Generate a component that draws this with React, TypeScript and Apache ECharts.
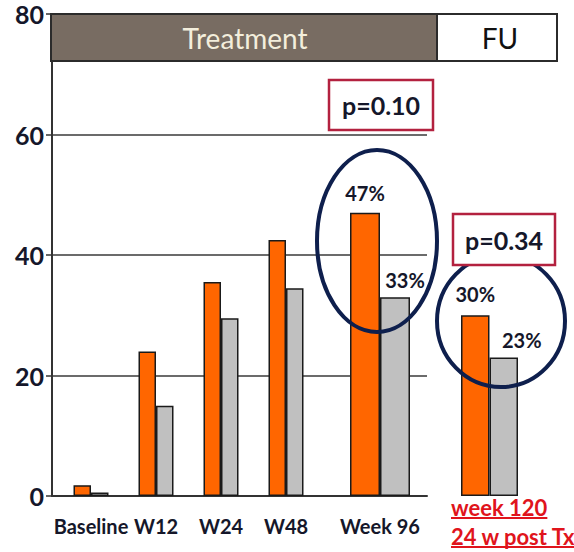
import React, { useEffect, useRef } from 'react';
import * as echarts from 'echarts';

// Response rates (%) by visit: two study arms
const categories = ['Baseline', 'W12', 'W24', 'W48', 'Week 96', 'week 120\n24 w post Tx'];
const orangeValues = [1.8, 24, 35.5, 42.5, 47, 30];
const grayValues = [0.6, 15, 29.5, 34.5, 33, 23];
const yTicks = [0, 20, 40, 60, 80];
const periods = ['Treatment', 'FU'];
const pValues = ['p=0.10', 'p=0.34'];

const FONT = 'Lato, "Open Sans", sans-serif';
const ORANGE = '#ff6600';
const GRAY = '#c0c0c0';
const NAVY = '#0e1f4d';
const RED = '#e0141c';
const INK = '#15172a';

function textWidth(text: string, font: string): number {
  const c = document.createElement('canvas').getContext('2d');
  if (!c) return text.length * 10;
  c.font = font;
  return c.measureText(text).width;
}

export default function App() {
  const ref = useRef<HTMLDivElement>(null);

  useEffect(() => {
    if (!ref.current) return;
    const chart = echarts.init(ref.current, undefined, { renderer: 'svg' });

    const top = 14;
    const height = 482;
    const yMin = yTicks[0];
    const yMax = yTicks[yTicks.length - 1];
    const step = yTicks[1] - yTicks[0];

    const hiddenY = (gridIndex: number) => ({
      type: 'value',
      gridIndex,
      min: yMin,
      max: yMax,
      interval: step,
      show: false,
    });

    const catAxis = (gridIndex: number, data: string[], showLabel: boolean) => ({
      type: 'category',
      gridIndex,
      data,
      axisLine: { show: false },
      axisTick: { show: false },
      axisLabel: {
        show: showLabel,
        interval: 0,
        margin: 20,
        color: INK,
        fontFamily: FONT,
        fontWeight: 'bold',
        fontSize: 20,
      },
    });

    const valueLabel = (dx: number, dy: number) => ({
      show: true,
      position: 'top',
      distance: 5,
      offset: [dx, dy],
      formatter: (p: any) => `${Math.round(p.value)}%`,
      color: INK,
      fontFamily: FONT,
      fontWeight: 'bold',
      fontSize: 20,
    });

    const barItem = { borderColor: '#1a1a1a', borderWidth: 1.5 };

    const labelOffsets: Record<number, [number, number][]> = {
      4: [[0, -5], [10, -2]],
      5: [[0, -6], [18, -2]],
    };
    const item = (v: number, idx: number, arm: number) =>
      labelOffsets[idx]
        ? { value: v, label: valueLabel(labelOffsets[idx][arm][0], labelOffsets[idx][arm][1]) }
        : v;

    const groups = [
      { grid: 1, from: 0, to: 4, width: 17.5 },
      { grid: 2, from: 4, to: 5, width: 30 },
      { grid: 3, from: 5, to: 6, width: 28.5 },
    ];

    const series: any[] = [];
    groups.forEach((g) => {
      series.push({
        type: 'bar',
        xAxisIndex: g.grid,
        yAxisIndex: g.grid,
        barWidth: g.width,
        barGap: '0%',
        itemStyle: { color: ORANGE, ...barItem },
        data: orangeValues.slice(g.from, g.to).map((v, i) => item(v, g.from + i, 0)),
      });
      series.push({
        type: 'bar',
        xAxisIndex: g.grid,
        yAxisIndex: g.grid,
        barWidth: g.width,
        barGap: '0%',
        itemStyle: { color: GRAY, ...barItem },
        data: grayValues.slice(g.from, g.to).map((v, i) => item(v, g.from + i, 1)),
      });
    });

    // follow-up label: two red underlined lines
    const fuFont = `bold 22px ${FONT}`;
    const fuLines = categories[5].split('\n');
    const fuText: any[] = [];
    fuLines.forEach((line, i) => {
      const y = 507 + i * 29;
      const w = textWidth(line, fuFont);
      fuText.push({
        type: 'text',
        x: 451,
        y,
        z: 100,
        style: {
          text: line,
          fill: RED,
          font: fuFont,
          textVerticalAlign: 'middle',
          textAlign: 'left',
        },
      });
      fuText.push({
        type: 'line',
        z: 100,
        shape: { x1: 451, y1: y + 11, x2: 451 + w, y2: y + 11 },
        style: { stroke: RED, lineWidth: 2 },
      });
    });

    const pBox = (x: number, y: number, w: number, h: number, text: string) => [
      {
        type: 'rect',
        z: 100,
        shape: { x, y, width: w, height: h },
        style: { fill: '#ffffff', stroke: '#b3213f', lineWidth: 2.5 },
      },
      {
        type: 'text',
        z: 101,
        x: x + w / 2,
        y: y + h / 2,
        style: {
          text,
          fill: INK,
          font: `bold 25px ${FONT}`,
          textAlign: 'center',
          textVerticalAlign: 'middle',
        },
      },
    ];

    chart.setOption({
      animation: false,
      backgroundColor: '#ffffff',
      grid: [
        { left: 52, top, width: 375, height },
        { left: 58.5, top, width: 260, height },
        { left: 335, top, width: 90, height },
        { left: 444.5, top, width: 90, height },
      ],
      xAxis: [
        {
          type: 'value',
          gridIndex: 0,
          min: 0,
          max: 1,
          axisLine: { show: true, onZero: false, lineStyle: { color: '#333', width: 2 } },
          axisTick: { show: false },
          axisLabel: { show: false },
          splitLine: { show: false },
        },
        catAxis(1, categories.slice(0, 4), true),
        catAxis(2, categories.slice(4, 5), true),
        catAxis(3, categories.slice(5, 6), false),
      ],
      yAxis: [
        {
          type: 'value',
          gridIndex: 0,
          min: yMin,
          max: yMax,
          interval: step,
          axisLine: { show: true, lineStyle: { color: '#333', width: 2 } },
          axisTick: { show: true, length: 6, lineStyle: { color: '#333', width: 1.5 } },
          axisLabel: {
            margin: 8,
            color: INK,
            fontFamily: FONT,
            fontWeight: 'bold',
            fontSize: 25,
            padding: [4, 0, 0, 0],
          },
          splitLine: { show: true, lineStyle: { color: '#3a3a3a', width: 1.5 } },
        },
        hiddenY(1),
        hiddenY(2),
        hiddenY(3),
      ],
      series,
      graphic: [
        // period header
        {
          type: 'rect',
          z: 100,
          shape: { x: 51, y: 14, width: 386, height: 47 },
          style: { fill: '#786c62', stroke: '#2b2b2b', lineWidth: 2 },
        },
        {
          type: 'text',
          z: 101,
          x: 245,
          y: 38,
          style: {
            text: periods[0],
            fill: '#f3eedc',
            font: `28px ${FONT}`,
            textAlign: 'center',
            textVerticalAlign: 'middle',
          },
        },
        {
          type: 'rect',
          z: 100,
          shape: { x: 437, y: 14, width: 120, height: 47 },
          style: { fill: '#ffffff', stroke: '#2b2b2b', lineWidth: 2 },
        },
        {
          type: 'text',
          z: 101,
          x: 500,
          y: 38,
          style: {
            text: periods[1],
            fill: '#111',
            font: `28px ${FONT}`,
            textAlign: 'center',
            textVerticalAlign: 'middle',
          },
        },
        ...pBox(329, 80, 104, 50, pValues[0]),
        ...pBox(453, 214, 102, 51, pValues[1]),
        // highlighted comparisons
        {
          type: 'ellipse',
          z: 99,
          shape: { cx: 377, cy: 241, rx: 60, ry: 91 },
          style: { fill: 'none', stroke: NAVY, lineWidth: 4 },
        },
        {
          type: 'ellipse',
          z: 99,
          shape: { cx: 501, cy: 321, rx: 64, ry: 66 },
          style: { fill: 'none', stroke: NAVY, lineWidth: 4 },
        },
        ...fuText,
      ],
    });

    return () => chart.dispose();
  }, []);

  return (
    <div
      ref={ref}
      style={{ position: 'fixed', left: 0, top: 0, width: 574, height: 552 }}
    />
  );
}
